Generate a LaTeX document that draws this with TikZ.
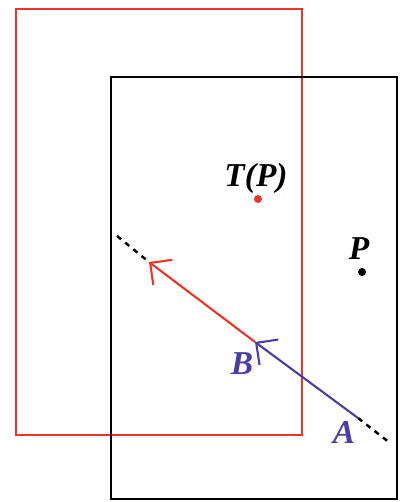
\documentclass[tikz,border=0pt]{standalone}
\usepackage{amsmath,amssymb}
\usepackage{fontspec}
\setmainfont{Liberation Serif}
\usetikzlibrary{calc,arrows.meta}
\definecolor{tred}{RGB}{238,52,40}
\definecolor{tblue}{RGB}{72,62,165}

\begin{document}
\begin{tikzpicture}[-,line width=1.2pt,>={Straight Barb[length=9pt,width=18pt]},color=black,x=0.02cm,y=-0.02cm]
	\useasboundingbox (0,0) rectangle (409,502);
	\tikzset{lab/.style={font=\fontsize{19}{21}\selectfont\bfseries\itshape}}
	% the two frames
	\draw[tred] (16,9) rectangle (302,435);
	\draw (111,77) rectangle (397,499);
	% points
	\coordinate (A) at (358,418);
	\coordinate (B) at (255,342);
	\coordinate (C) at (149,262);
	\coordinate (d1) at (117,236);
	\coordinate (d2) at (390,443);
	\fill[tred] (258,199) circle (4);
	\fill (362,272) circle (4);
	\node[lab] (tp) at (256,178) {T(P)};
	\node[lab] (p) at (359,249) {P};
	\node[lab,tblue] (b) at (242,364) {B};
	\node[lab,tblue] (a) at (344,432) {A};
	% the line and the two arrows
	\draw[dash pattern=on 3pt off 3pt,line width=1.4pt] (d1) -- (C);
	\draw[dash pattern=on 3pt off 3pt,line width=1.4pt] (A) -- (d2);
	\draw[->,tblue] (A) -- (B);
	\draw[->,tred] (B) -- (C);
\end{tikzpicture}
\end{document}
